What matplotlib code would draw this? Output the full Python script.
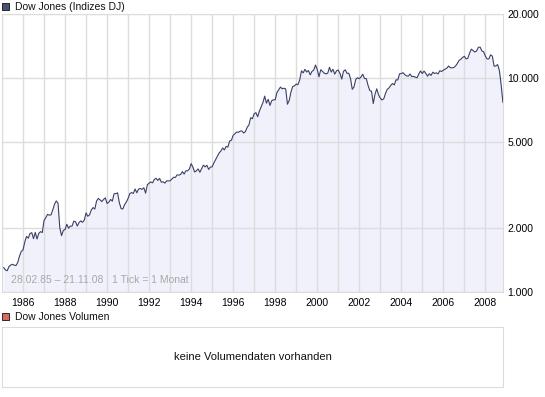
import numpy as np
import pandas as pd
import matplotlib.pyplot as plt
from matplotlib.patches import Rectangle
from matplotlib.ticker import FixedLocator, NullFormatter

W, H = 545, 397

# monthly closes Dow Jones, Feb 1985 .. Nov 2008
closes = [
    1300, 1267, 1258, 1315, 1336, 1348, 1334, 1329, 1374, 1472, 1547,
    1571, 1710, 1819, 1784, 1877, 1893, 1775, 1898, 1768, 1878, 1914, 1896,
    2158, 2224, 2305, 2286, 2292, 2419, 2572, 2663, 2596, 1994, 1834, 1939,
    1958, 2072, 1988, 2032, 2031, 2142, 2129, 2032, 2113, 2149, 2115, 2169,
    2342, 2258, 2294, 2419, 2480, 2440, 2661, 2737, 2693, 2645, 2706, 2753,
    2591, 2627, 2707, 2657, 2877, 2881, 2905, 2614, 2453, 2442, 2560, 2634,
    2736, 2882, 2914, 2888, 3028, 2907, 3025, 3044, 3017, 3069, 2895, 3169,
    3224, 3267, 3236, 3359, 3397, 3319, 3394, 3257, 3272, 3226, 3305, 3301,
    3310, 3371, 3435, 3428, 3527, 3516, 3540, 3651, 3555, 3681, 3684, 3754,
    3978, 3832, 3636, 3682, 3758, 3625, 3765, 3913, 3843, 3908, 3739, 3834,
    3844, 4011, 4158, 4321, 4465, 4556, 4709, 4611, 4789, 4756, 5075, 5117,
    5395, 5486, 5588, 5569, 5643, 5655, 5529, 5616, 5882, 6029, 6522, 6448,
    6813, 6878, 6584, 7009, 7331, 7673, 8223, 7622, 7945, 7442, 7823, 7908,
    7907, 8546, 8800, 9063, 8900, 8952, 8883, 7539, 7843, 8592, 9117, 9181,
    9359, 9307, 9786, 10789, 10560, 10971, 10655, 10829, 10337, 10729, 10878, 11497,
    10941, 10128, 10922, 10734, 10522, 10448, 10522, 11215, 10651, 10971, 10415, 10788,
    10887, 10495, 9879, 10735, 10912, 10502, 10523, 9950, 8848, 9075, 9852, 10022,
    9920, 10106, 10404, 9946, 9925, 9243, 8737, 8664, 7592, 8397, 8896, 8342,
    8054, 7891, 7992, 8480, 8850, 8985, 9234, 9416, 9275, 9801, 9782, 10454,
    10488, 10584, 10358, 10226, 10188, 10435, 10140, 10174, 10080, 10027, 10428, 10783,
    10490, 10766, 10504, 10193, 10467, 10275, 10641, 10482, 10569, 10440, 10806, 10718,
    10865, 10993, 11109, 11367, 11168, 11150, 11186, 11381, 11679, 12081, 12222, 12463,
    12622, 12269, 12354, 13063, 13628, 13409, 13212, 13358, 13896, 13930, 13372, 13265,
    12650, 12266, 12263, 12820, 12638, 11350, 11378, 11544, 10851, 9325, 7700,
]
dates = pd.date_range("1985-02-01", periods=len(closes), freq="MS")
t = dates.year + (dates.month - 1) / 12.0

y_ticks = [1000, 2000, 5000, 10000, 20000]
y_labels = ["1.000", "2.000", "5.000", "10.000", "20.000"]
x_years = list(range(1986, 2009, 2))
grid_years = list(range(1985, 2009))

font = "Liberation Sans"
grid_c = "#dcdcdc"

fig = plt.figure(figsize=(W / 100, H / 100), dpi=100)

def fx(px):
    return px / W

def fy(py):
    return 1 - py / H

ax = fig.add_axes([fx(2), fy(292), fx(503) - fx(2), fy(13.5) - fy(292)])
ax.set_yscale("log")
ax.set_ylim(1000, 20000)
ax.set_xlim(1985.05, 2008.84)
ax.fill_between(t, closes, 1000, color="#f1f1fc", lw=0, zorder=1)
ax.plot(t, closes, color="#3a4066", lw=0.8, zorder=3)

ax.yaxis.set_major_locator(FixedLocator(y_ticks))
ax.set_yticklabels(y_labels)
ax.yaxis.set_minor_locator(FixedLocator([]))
ax.yaxis.set_minor_formatter(NullFormatter())
ax.yaxis.tick_right()
ax.set_xticks(x_years)
ax.set_xticklabels([str(y) for y in x_years])
ax.set_xticks(grid_years, minor=True)
ax.grid(True, which="both", axis="x", color=grid_c, lw=1, zorder=2)
ax.grid(True, which="major", axis="y", color=grid_c, lw=1, zorder=2)
ax.tick_params(axis="both", which="both", length=0, labelsize=7.5, colors="#000000")
ax.tick_params(axis="y", pad=3)
ax.tick_params(axis="x", pad=4)
for lab in ax.get_xticklabels() + ax.get_yticklabels():
    lab.set_fontfamily(font)
for s in ax.spines.values():
    s.set_color(grid_c)
ax.set_axisbelow(False)

ax.text(0.018, 0.025, "28.02.85 \u2013 21.11.08   1 Tick = 1 Monat", transform=ax.transAxes,
        fontsize=7.5, color="#a8a8a8", family=font, va="bottom", ha="left", zorder=4)

# title boxes
fig.add_artist(Rectangle((fx(2), fy(10)), 7 / W, 7 / H, transform=fig.transFigure,
                         facecolor="#4a5274", edgecolor="#111111", lw=0.6))
fig.text(fx(15), fy(6.5), "Dow Jones (Indizes DJ)", fontsize=7.5, family=font,
         va="center", ha="left", color="#111111")
fig.add_artist(Rectangle((fx(2), fy(320)), 7 / W, 7 / H, transform=fig.transFigure,
                         facecolor="#d46a64", edgecolor="#111111", lw=0.6))
fig.text(fx(15), fy(316.5), "Dow Jones Volumen", fontsize=7.5, family=font,
         va="center", ha="left", color="#111111")

# volume panel
vax = fig.add_axes([fx(2), fy(387), fx(503) - fx(2), fy(327) - fy(387)])
vax.set_xticks([])
vax.set_yticks([])
for s in vax.spines.values():
    s.set_color(grid_c)
vax.text(0.5, 0.5, "keine Volumendaten vorhanden", transform=vax.transAxes,
         ha="center", va="center", fontsize=8, family=font, color="#111111")

fig.savefig("out.png", dpi=100)
